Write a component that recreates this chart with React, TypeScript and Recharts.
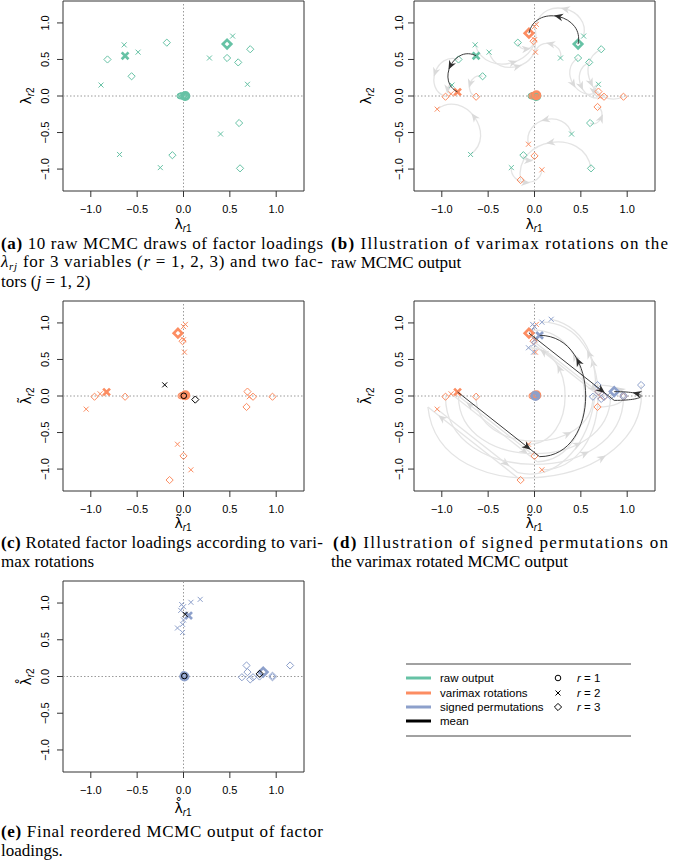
import React from 'react';
import { ScatterChart, Scatter, XAxis, YAxis, ReferenceLine, ReferenceArea } from 'recharts';

type XY = [number, number];
type Sym = 'o' | 'x' | 'd';

const GREEN = '#66C2A5';
const ORANGE = '#FC8D62';
const BLUE = '#8DA0CB';

// 10 MCMC draws (A..J); draw F (index 5) is the highlighted one
const drawLabels = ['A', 'B', 'C', 'D', 'E', 'F', 'G', 'H', 'I', 'J'];
const HIGHLIGHT = 5;

// raw MCMC output (r = 1, 2, 3)
const raw1: XY[] = [[0.02, -0.01], [-0.03, 0.0], [0.01, 0.01], [-0.01, -0.01], [0.03, 0.0], [0.02, 0.0], [-0.02, 0.01], [0.0, 0.0], [0.01, -0.02], [-0.04, 0.0]];
const raw2: XY[] = [[-0.69, -0.8], [0.28, 0.52], [0.4, -0.52], [-0.25, -0.98], [0.69, 0.16], [-0.63, 0.55], [-0.64, 0.7], [-0.49, 0.6], [-0.89, 0.15], [0.53, 0.82]];
const raw3: XY[] = [[0.61, -0.99], [-0.56, 0.27], [0.72, 0.64], [0.6, -0.37], [-0.18, 0.73], [0.47, 0.71], [0.47, 0.52], [0.59, 0.46], [-0.12, -0.81], [-0.82, 0.5]];

// varimax rotated output
const rot1: XY[] = [[0.01, 0.0], [-0.02, 0.01], [0.02, -0.01], [0.0, 0.01], [0.03, 0.0], [0.02, 0.01], [-0.01, 0.0], [0.01, 0.02], [0.0, -0.01], [-0.03, 0.0]];
const rot2: XY[] = [[-1.05, -0.18], [0.01, 0.6], [-0.065, -0.66], [0.08, -1.01], [0.71, -0.01], [-0.83, 0.055], [0.0, 0.95], [0.0, 0.77], [-0.9, 0.03], [0.02, 0.98]];
const rot3: XY[] = [[-0.15, -1.15], [-0.63, -0.01], [0.96, -0.01], [0.68, -0.15], [-0.01, 0.75], [-0.06, 0.86], [0.69, 0.06], [0.75, -0.01], [0.0, -0.82], [-0.96, -0.01]];

// signed permutation output
const perm1: XY[] = [[0.0, 0.01], [0.02, 0.01], [0.02, 0.01], [0.0, -0.01], [0.0, 0.03], [0.01, 0.0], [-0.01, 0.0], [0.01, 0.02], [0.01, 0.0], [0.03, 0.0]];
const perm2: XY[] = [[0.18, 1.05], [-0.01, 0.6], [-0.065, 0.66], [0.08, 1.01], [-0.01, 0.71], [0.055, 0.83], [0.0, 0.95], [0.0, 0.77], [-0.03, 0.9], [-0.02, 0.98]];
const perm3: XY[] = [[1.15, 0.15], [0.63, -0.01], [0.96, 0.01], [0.68, 0.15], [0.75, -0.01], [0.86, 0.06], [0.69, 0.06], [0.72, -0.04], [0.82, 0.0], [0.96, -0.01]];
// whether the signed permutation of a draw swaps the two factors
const permSwap = [true, false, false, false, true, true, false, false, true, false];

const axisTicks = [-1, -0.5, 0, 0.5, 1];
const axisDomain: [number, number] = [-1.3, 1.3];

const rawSets = [raw1, raw2, raw3];
const rotSets = [rot1, rot2, rot3];
const permSets = [perm1, perm2, perm3];
const syms: Sym[] = ['o', 'x', 'd'];

const meanOf = (arr: XY[]): XY => [arr.reduce((s, p) => s + p[0], 0) / arr.length, arr.reduce((s, p) => s + p[1], 0) / arr.length];

const fmt = (v: number) => (v < 0 ? '\u2212' : '') + Math.abs(v).toFixed(1);
const SANS = 'Liberation Sans, Arial, Helvetica, sans-serif';
const SERIF = '"Liberation Serif", "Times New Roman", serif';

const markerShape = (sym: Sym, color: string, big: boolean) => (props: any) => {
  const { cx, cy } = props;
  if (cx == null || cy == null || isNaN(cx) || isNaN(cy)) return <g />;
  const sw = big ? 2.7 : 1;
  if (sym === 'o') {
    return <circle cx={cx} cy={cy} r={big ? 3.6 : 2.8} fill="none" stroke={color} strokeWidth={sw} />;
  }
  if (sym === 'x') {
    const h = big ? 3.4 : 2.5;
    return <path d={`M${cx - h},${cy - h}L${cx + h},${cy + h}M${cx - h},${cy + h}L${cx + h},${cy - h}`} stroke={color} strokeWidth={sw} fill="none" />;
  }
  const h = big ? 4.2 : 3.6;
  return <path d={`M${cx},${cy - h}L${cx + h},${cy}L${cx},${cy + h}L${cx - h},${cy}Z`} stroke={color} strokeWidth={sw} fill="none" />;
};

function ptsSeries(key: string, data: XY[], sym: Sym, color: string, big: boolean) {
  return (
    <Scatter
      key={key}
      data={data.map(([x, y]) => ({ x, y }))}
      shape={markerShape(sym, color, big)}
      isAnimationActive={false}
    />
  );
}

function groupSeries(prefix: string, sets: XY[][], color: string, big: boolean) {
  return sets.map((arr, v) =>
    ptsSeries(
      `${prefix}-${v}`,
      big ? [arr[HIGHLIGHT]] : arr.filter((_, i) => i !== HIGHLIGHT),
      syms[v],
      color,
      big
    )
  );
}

function meanSeries(prefix: string, sets: XY[][]) {
  return sets.map((arr, v) => ptsSeries(`${prefix}-${v}`, [meanOf(arr)], syms[v], '#000', false));
}

type ArrowSpec = { from: XY; to: XY; kind: 'arc' | 'line' };
type ArrowStyle = { stroke: string; head: string; width: number; arcK: number; minS: number; posArc: number; posLine: number; headSize: number };

function headPath(x: number, y: number, ux: number, uy: number, size: number) {
  const px = -uy, py = ux;
  const tx = x + ux * size * 0.5, ty = y + uy * size * 0.5;
  const bx = x - ux * size * 0.5, by = y - uy * size * 0.5;
  const w = size * 0.42;
  const nx = x - ux * size * 0.2, ny = y - uy * size * 0.2;
  return `M${tx},${ty}L${bx + px * w},${by + py * w}L${nx},${ny}L${bx - px * w},${by - py * w}Z`;
}

function arrowSeries(key: string, specs: ArrowSpec[], st: ArrowStyle) {
  const data = specs.flatMap((s) => [{ x: s.from[0], y: s.from[1] }, { x: s.to[0], y: s.to[1] }]);
  const line = (props: any) => {
    const pts: { x: number; y: number }[] = props.points || [];
    const els: React.ReactNode[] = [];
    specs.forEach((s, i) => {
      const p = pts[2 * i];
      const q = pts[2 * i + 1];
      if (!p || !q) return;
      const dx = q.x - p.x, dy = q.y - p.y;
      const L = Math.hypot(dx, dy);
      if (L < 1.5) return;
      if (s.kind === 'line') {
        const t = st.posLine;
        const hx = p.x + dx * t, hy = p.y + dy * t;
        els.push(<path key={`l${i}`} d={`M${p.x},${p.y}L${q.x},${q.y}`} stroke={st.stroke} strokeWidth={st.width} fill="none" />);
        els.push(<path key={`h${i}`} d={headPath(hx, hy, dx / L, dy / L, st.headSize)} fill={st.head} stroke="none" />);
      } else {
        const nx = -dy / L, ny = dx / L;
        const sag = Math.max(st.arcK * L, st.minS);
        const d = sag / 0.75;
        const c1x = p.x + nx * d, c1y = p.y + ny * d;
        const c2x = q.x + nx * d, c2y = q.y + ny * d;
        const t = st.posArc, u = 1 - t;
        const bx = u * u * u * p.x + 3 * u * u * t * c1x + 3 * u * t * t * c2x + t * t * t * q.x;
        const by = u * u * u * p.y + 3 * u * u * t * c1y + 3 * u * t * t * c2y + t * t * t * q.y;
        const tx = 3 * u * u * (c1x - p.x) + 6 * u * t * (c2x - c1x) + 3 * t * t * (q.x - c2x);
        const ty = 3 * u * u * (c1y - p.y) + 6 * u * t * (c2y - c1y) + 3 * t * t * (q.y - c2y);
        const tl = Math.hypot(tx, ty) || 1;
        els.push(<path key={`a${i}`} d={`M${p.x},${p.y}C${c1x},${c1y} ${c2x},${c2y} ${q.x},${q.y}`} stroke={st.stroke} strokeWidth={st.width} fill="none" />);
        els.push(<path key={`h${i}`} d={headPath(bx, by, tx / tl, ty / tl, st.headSize)} fill={st.head} stroke="none" />);
      }
    });
    return <g>{els}</g>;
  };
  return <Scatter key={key} data={data} shape={() => <g />} line={line} isAnimationActive={false} />;
}

function rotationArrows(highlight: boolean): ArrowSpec[] {
  const out: ArrowSpec[] = [];
  rawSets.forEach((raw, v) =>
    raw.forEach((p, d) => {
      if ((d === HIGHLIGHT) === highlight) out.push({ from: p, to: rotSets[v][d], kind: 'arc' });
    })
  );
  return out;
}

function permArrows(highlight: boolean): ArrowSpec[] {
  const out: ArrowSpec[] = [];
  rotSets.forEach((rot, v) =>
    rot.forEach((o, d) => {
      if ((d === HIGHLIGHT) !== highlight) return;
      const f = permSets[v][d];
      let cur: XY = o;
      if (permSwap[d] && Math.abs(o[0] - o[1]) > 0.08) {
        const mid: XY = [o[1], o[0]];
        out.push({ from: o, to: mid, kind: 'line' });
        cur = mid;
      }
      if (Math.hypot(cur[0] - f[0], cur[1] - f[1]) > 0.08) out.push({ from: cur, to: f, kind: 'arc' });
    })
  );
  return out;
}

const grayB: ArrowStyle = { stroke: '#e4e4e4', head: '#dadada', width: 1.3, arcK: 0.45, minS: 0, posArc: 0.5, posLine: 0.5, headSize: 9 };
const darkB: ArrowStyle = { stroke: '#3c3c3c', head: '#2e2e2e', width: 1, arcK: 0.45, minS: 0, posArc: 0.5, posLine: 0.5, headSize: 9 };
const grayD: ArrowStyle = { stroke: '#e4e4e4', head: '#dadada', width: 1.3, arcK: 0.38, minS: 27, posArc: 0.7, posLine: 0.85, headSize: 9 };
const darkD: ArrowStyle = { stroke: '#3c3c3c', head: '#2e2e2e', width: 1, arcK: 0.38, minS: 27, posArc: 0.7, posLine: 0.85, headSize: 9 };

const XTick = (props: any) => {
  const { x, y, payload } = props;
  return (
    <text x={x} y={y + 16} textAnchor="middle" fontSize={11} fontFamily={SANS} fill="#000">
      {fmt(payload.value)}
    </text>
  );
};

const YTick = (props: any) => {
  const { x, y, payload, gap } = props;
  return (
    <text transform={`translate(${x - gap},${y}) rotate(-90)`} textAnchor="middle" fontSize={11} fontFamily={SANS} fill="#000">
      {fmt(payload.value)}
    </text>
  );
};

function Panel({ left, top, yAxisW, plotW, plotH, gap, children }: { left: number; top: number; yAxisW: number; plotW: number; plotH: number; gap: number; children: React.ReactNode }) {
  return (
    <div style={{ position: 'absolute', left, top }}>
      <ScatterChart width={yAxisW + plotW + 4} height={plotH + 40} margin={{ top: 1, right: 4, bottom: 0, left: 0 }}>
        <XAxis type="number" dataKey="x" domain={axisDomain} ticks={axisTicks} allowDataOverflow axisLine={false} tickSize={6} tickMargin={0} tickLine={{ stroke: '#333' }} tick={<XTick />} height={39} interval={0} />
        <YAxis type="number" dataKey="y" domain={axisDomain} ticks={axisTicks} allowDataOverflow axisLine={false} tickSize={6} tickMargin={0} tickLine={{ stroke: '#333' }} tick={<YTick gap={gap} />} width={yAxisW} interval={0} />
        <ReferenceArea x1={-1.3} x2={1.3} y1={-1.3} y2={1.3} fill="none" fillOpacity={0} stroke="#333" strokeWidth={1} ifOverflow="visible" />
        <ReferenceLine x={0} stroke="#9a9a9a" strokeDasharray="1.5 2" />
        <ReferenceLine y={0} stroke="#9a9a9a" strokeDasharray="1.5 2" />
        {children}
      </ScatterChart>
    </div>
  );
}

function AxisTitle({ cx, cy, vertical, sub, accent }: { cx: number; cy: number; vertical?: boolean; sub: string; accent?: 'tilde' | 'ring' }) {
  const base = accent === 'tilde' ? 'λ\u0303' : accent === 'ring' ? 'λ\u030A' : 'λ';
  return (
    <g transform={`translate(${cx},${cy})${vertical ? ' rotate(-90)' : ''}`}>
      <text x={0} y={4} textAnchor="middle" fontFamily="DejaVu Sans, sans-serif" fontSize={14} fill="#000">
        {base}
        <tspan dy={3} fontSize={10} fontFamily={SANS}>
          <tspan fontStyle="italic">r</tspan>
          {sub}
        </tspan>
      </text>
    </g>
  );
}

// Caption lines: x, baseline y, justified width (0 = natural), parts
type Part = { t: string; b?: boolean; i?: boolean; sub?: boolean };
type CapLine = { x: number; y: number; w: number; parts: Part[] };
const captionLines: CapLine[] = [
  { x: 1, y: 249, w: 322, parts: [{ t: '(a)', b: true }, { t: ' 10 raw MCMC draws of factor loadings' }] },
  { x: 1, y: 267, w: 322, parts: [{ t: 'λ', i: true }, { t: 'rj', i: true, sub: true }, { t: ' for 3 variables (' }, { t: 'r', i: true }, { t: ' = 1, 2, 3) and two fac-' }] },
  { x: 1, y: 287, w: 0, parts: [{ t: 'tors (' }, { t: 'j', i: true }, { t: ' = 1, 2)' }] },
  { x: 331, y: 249, w: 337, parts: [{ t: '(b)', b: true }, { t: ' Illustration of varimax rotations on the' }] },
  { x: 331, y: 268, w: 0, parts: [{ t: 'raw MCMC output' }] },
  { x: 1, y: 548, w: 322, parts: [{ t: '(c)', b: true }, { t: ' Rotated factor loadings according to vari-' }] },
  { x: 1, y: 567, w: 0, parts: [{ t: 'max rotations' }] },
  { x: 333, y: 548, w: 335, parts: [{ t: '(d)', b: true }, { t: ' Illustration of signed permutations on' }] },
  { x: 331, y: 567, w: 0, parts: [{ t: 'the varimax rotated MCMC output' }] },
  { x: 1, y: 837, w: 322, parts: [{ t: '(e)', b: true }, { t: ' Final reordered MCMC output of factor' }] },
  { x: 1, y: 856, w: 0, parts: [{ t: 'loadings.' }] },
];

function Captions() {
  return (
    <svg style={{ position: 'absolute', left: 0, top: 0, pointerEvents: 'none' }} width={685} height={860}>
      {captionLines.map((ln, k) => {
        let prevSub = false;
        return (
          <text
            key={k}
            x={ln.x}
            y={ln.y}
            fontFamily={SERIF}
            fontSize={17}
            fill="#000"
            {...(ln.w ? { textLength: ln.w, lengthAdjust: 'spacing' } : {})}
            style={{ whiteSpace: 'pre' }}
          >
            {ln.parts.map((p, j) => {
              const dy = p.sub ? 3 : prevSub ? -3 : 0;
              prevSub = !!p.sub;
              return (
                <tspan
                  key={j}
                  dy={dy || undefined}
                  fontWeight={p.b ? 'bold' : undefined}
                  fontStyle={p.i ? 'italic' : undefined}
                  fontSize={p.sub ? 11 : undefined}
                >
                  {p.t}
                </tspan>
              );
            })}
          </text>
        );
      })}
    </svg>
  );
}

const legendSeries = [
  { label: 'raw output', color: GREEN },
  { label: 'varimax rotations', color: ORANGE },
  { label: 'signed permutations', color: BLUE },
  { label: 'mean', color: '#000' },
];
const legendVars = ['r = 1', 'r = 2', 'r = 3'];

function Legend() {
  const rows = [678, 693, 707, 721];
  return (
    <svg style={{ position: 'absolute', left: 0, top: 0 }} width={685} height={860}>
      <line x1={406} x2={631} y1={664} y2={664} stroke="#444" strokeWidth={1} />
      <line x1={406} x2={631} y1={736} y2={736} stroke="#444" strokeWidth={1} />
      {legendSeries.map((s, i) => (
        <g key={s.label}>
          <line x1={406} x2={431} y1={rows[i]} y2={rows[i]} stroke={s.color} strokeWidth={3} />
          <text x={440} y={rows[i] + 4} fontFamily={SANS} fontSize={11.5} fill="#000">{s.label}</text>
        </g>
      ))}
      {legendVars.map((v, i) => {
        const cx = 558, cy = rows[i];
        const sym = syms[i];
        return (
          <g key={v}>
            {sym === 'o' && <circle cx={cx} cy={cy} r={2.8} fill="none" stroke="#000" strokeWidth={1} />}
            {sym === 'x' && <path d={`M${cx - 2.5},${cy - 2.5}L${cx + 2.5},${cy + 2.5}M${cx - 2.5},${cy + 2.5}L${cx + 2.5},${cy - 2.5}`} stroke="#000" strokeWidth={1} />}
            {sym === 'd' && <path d={`M${cx},${cy - 3.6}L${cx + 3.6},${cy}L${cx},${cy + 3.6}L${cx - 3.6},${cy}Z`} fill="none" stroke="#000" strokeWidth={1} />}
            <text x={577} y={cy + 4} fontFamily={SANS} fontSize={11.5} fill="#000">
              <tspan fontStyle="italic">r</tspan>
              {v.slice(1)}
            </text>
          </g>
        );
      })}
    </svg>
  );
}

function Titles() {
  return (
    <svg style={{ position: 'absolute', left: 0, top: 0, pointerEvents: 'none' }} width={685} height={860}>
      <AxisTitle cx={183} cy={225} sub="1" />
      <AxisTitle cx={27} cy={96} vertical sub="2" />
      <AxisTitle cx={534} cy={225} sub="1" />
      <AxisTitle cx={367} cy={96} vertical sub="2" />
      <AxisTitle cx={183} cy={524} sub="1" accent="tilde" />
      <AxisTitle cx={27} cy={396} vertical sub="2" accent="tilde" />
      <AxisTitle cx={534} cy={524} sub="1" accent="tilde" />
      <AxisTitle cx={367} cy={396} vertical sub="2" accent="tilde" />
      <AxisTitle cx={183} cy={809} sub="1" accent="ring" />
      <AxisTitle cx={27} cy={677} vertical sub="2" accent="ring" />
    </svg>
  );
}

export default function App() {
  return (
    <div style={{ position: 'absolute', left: 0, top: 0, width: 685, height: 860, background: '#fff', overflow: 'hidden' }}>
      {/* (a) raw output */}
      <Panel left={0} top={0} yAxisW={63} plotW={241} plotH={190} gap={8}>
        {groupSeries('a-s', rawSets, GREEN, false)}
        {groupSeries('a-b', rawSets, GREEN, true)}
      </Panel>
      {/* (b) varimax rotations */}
      <Panel left={340} top={0} yAxisW={74} plotW={241} plotH={190} gap={5}>
        {arrowSeries('b-ga', rotationArrows(false), grayB)}
        {groupSeries('b-gs', rawSets, GREEN, false)}
        {groupSeries('b-os', rotSets, ORANGE, false)}
        {groupSeries('b-gb', rawSets, GREEN, true)}
        {groupSeries('b-ob', rotSets, ORANGE, true)}
        {arrowSeries('b-da', rotationArrows(true), darkB)}
      </Panel>
      {/* (c) rotated loadings */}
      <Panel left={0} top={300} yAxisW={63} plotW={241} plotH={190} gap={8}>
        {groupSeries('c-os', rotSets, ORANGE, false)}
        {groupSeries('c-ob', rotSets, ORANGE, true)}
        {meanSeries('c-m', rotSets)}
      </Panel>
      {/* (d) signed permutations */}
      <Panel left={340} top={300} yAxisW={74} plotW={241} plotH={190} gap={5}>
        {arrowSeries('d-ga', permArrows(false), grayD)}
        {groupSeries('d-os', rotSets, ORANGE, false)}
        {groupSeries('d-bs', permSets, BLUE, false)}
        {groupSeries('d-ob', rotSets, ORANGE, true)}
        {groupSeries('d-bb', permSets, BLUE, true)}
        {arrowSeries('d-da', permArrows(true), darkD)}
      </Panel>
      {/* (e) final reordered */}
      <Panel left={0} top={580} yAxisW={63} plotW={241} plotH={191} gap={8}>
        {groupSeries('e-bs', permSets, BLUE, false)}
        {groupSeries('e-bb', permSets, BLUE, true)}
        {meanSeries('e-m', permSets)}
      </Panel>

      <Titles />
      <Legend />
      <Captions />
    </div>
  );
}
